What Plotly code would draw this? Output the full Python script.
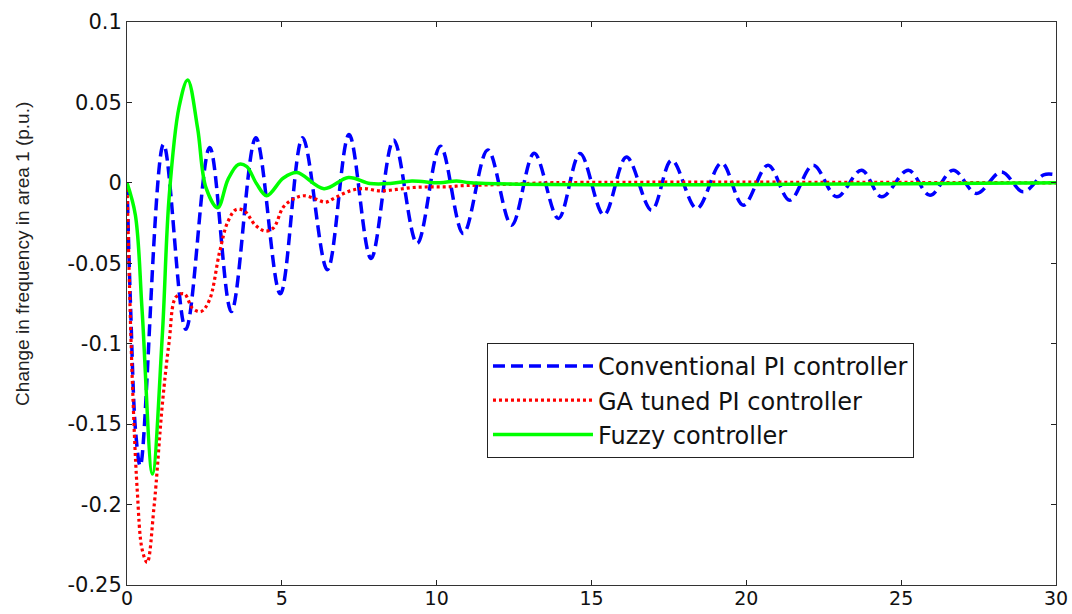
import plotly.graph_objects as go

# ---- data ----
t_conv = [0, 0.12, 0.28, 0.43, 1.18, 1.9, 2.67, 3.37, 4.16, 4.95, 5.67, 6.47, 7.17, 7.88,
          8.61, 9.37, 10.12, 10.86, 11.65, 12.42, 13.15, 13.93, 14.63, 15.4, 16.13,
          16.94, 17.59, 18.4, 19.2, 19.9, 20.7, 21.4, 22.16, 22.92, 23.72, 24.37,
          25.23, 25.93, 26.68, 27.43, 28.24, 28.94, 29.6, 30]
v_conv = [0, -0.08, -0.155, -0.176, 0.024, -0.091, 0.022, -0.080, 0.028, -0.069, 0.028,
          -0.054, 0.030, -0.047, 0.0266, -0.0377, 0.0228, -0.0315, 0.0205, -0.0263,
          0.0184, -0.0221, 0.0182, -0.020, 0.016, -0.017, 0.0141, -0.016, 0.0124,
          -0.0139, 0.011, -0.0108, 0.011, -0.0087, 0.0079, -0.0087, 0.0079, -0.0077,
          0.0079, -0.0066, 0.0068, -0.0056, 0.005, 0.005]

t_ga = [0, 0.16, 0.33, 0.49, 0.65, 0.87, 1.14, 1.36, 1.58, 1.85, 2.12, 2.39, 2.66, 2.99,
        3.26, 3.53, 3.8, 4.13, 4.46, 4.73, 5.05, 5.38, 5.71, 6.09, 6.41, 6.74, 7.2,
        7.63, 8.17, 8.71, 9.24, 9.78, 10.32, 10.86, 11.4, 12.47, 13.5, 30]
v_ga = [0, -0.116, -0.191, -0.228, -0.236, -0.202, -0.138, -0.099, -0.071, -0.069,
        -0.078, -0.080, -0.073, -0.043, -0.024, -0.0165, -0.0176, -0.026, -0.030,
        -0.028, -0.015, -0.010, -0.008, -0.010, -0.012, -0.009, -0.005, -0.0035,
        -0.005, -0.0041, -0.0029, -0.0025, -0.0025, -0.0017, -0.0014, -0.0008, 0, 0]

t_fuzzy = [0, 0.27, 0.49, 0.82, 1.14, 1.36, 1.68, 1.96, 2.28, 2.55, 2.93, 3.26, 3.59,
           3.86, 4.18, 4.51, 5.05, 5.49, 6.36, 7.15, 7.85, 8.5, 9.2, 10.1, 10.64,
           11.1, 30]
v_fuzzy = [0, -0.02, -0.08, -0.181, -0.095, -0.009, 0.047, 0.064, 0.034, -0.003,
           -0.0155, 0.002, 0.0114, 0.0103, -0.0004, -0.008, 0.003, 0.0064, -0.0036,
           0.0033, -0.0004, -0.0004, 0.0012, 0, 0.0012, 0, 0]

x_ticks = [0, 5, 10, 15, 20, 25, 30]
x_labels = ["0", "5", "10", "15", "20", "25", "30"]
y_ticks = [0.1, 0.05, 0, -0.05, -0.1, -0.15, -0.2, -0.25]
y_labels = ["0.1", "0.05", "0", "-0.05", "-0.1", "-0.15", "-0.2", "-0.25"]

names = ["Conventional PI controller", "GA tuned PI controller", "Fuzzy controller"]
y_title = "Change in frequency in area 1 (p.u.)"

TICKFONT = "DejaVu Sans, Verdana, sans-serif"
TITLEFONT = "Liberation Sans, Arial, sans-serif"

fig = go.Figure()
fig.add_trace(go.Scatter(x=t_conv, y=v_conv, mode="lines", name=names[0], legendgroup="a",
                         line=dict(color="#0000FF", width=3.5, dash="12px,6px",
                                   shape="spline", smoothing=1.0)))
fig.add_trace(go.Scatter(x=t_ga, y=v_ga, mode="lines", name=names[1], legendgroup="b",
                         line=dict(color="#FF0000", width=3.2, dash="3px,3px",
                                   shape="spline", smoothing=1.0)))
fig.add_trace(go.Scatter(x=t_fuzzy, y=v_fuzzy, mode="lines", name=names[2], legendgroup="c",
                         line=dict(color="#00FF00", width=3.5,
                                   shape="spline", smoothing=1.0)))

axis_common = dict(showline=True, linecolor="#333333", linewidth=1, mirror="allticks",
                   ticks="inside", ticklen=5, tickcolor="#222222", showgrid=False,
                   zeroline=False, automargin=False)

fig.update_xaxes(range=[0, 30], tickvals=x_ticks, ticktext=x_labels,
                 tickfont=dict(family=TICKFONT, size=19, color="#111111"),
                 ticklabelstandoff=-4, **axis_common)
fig.update_yaxes(range=[-0.25, 0.1], tickvals=y_ticks, ticktext=y_labels,
                 tickfont=dict(family=TICKFONT, size=21, color="#111111"),
                 **axis_common)

fig.add_annotation(text=y_title, textangle=-90, xref="paper", yref="paper",
                   x=-0.112, y=0.588, xanchor="center", yanchor="middle", showarrow=False,
                   font=dict(family=TITLEFONT, size=19, color="#222222"))

fig.update_layout(
    width=1072, height=614,
    margin=dict(l=127, r=16, t=22, b=29, autoexpand=False),
    paper_bgcolor="white", plot_bgcolor="white",
    showlegend=True,
    legend=dict(x=0.3875, y=0.43, xanchor="left", yanchor="top",
                bgcolor="white", bordercolor="#222222", borderwidth=1,
                font=dict(family=TICKFONT, size=24, color="#111111"),
                itemwidth=100, tracegroupgap=0, traceorder="normal"),
)

fig.write_html("out.html", config={"responsive": False},
               post_script="document.body.style.margin='0';document.body.style.overflow='hidden';")
